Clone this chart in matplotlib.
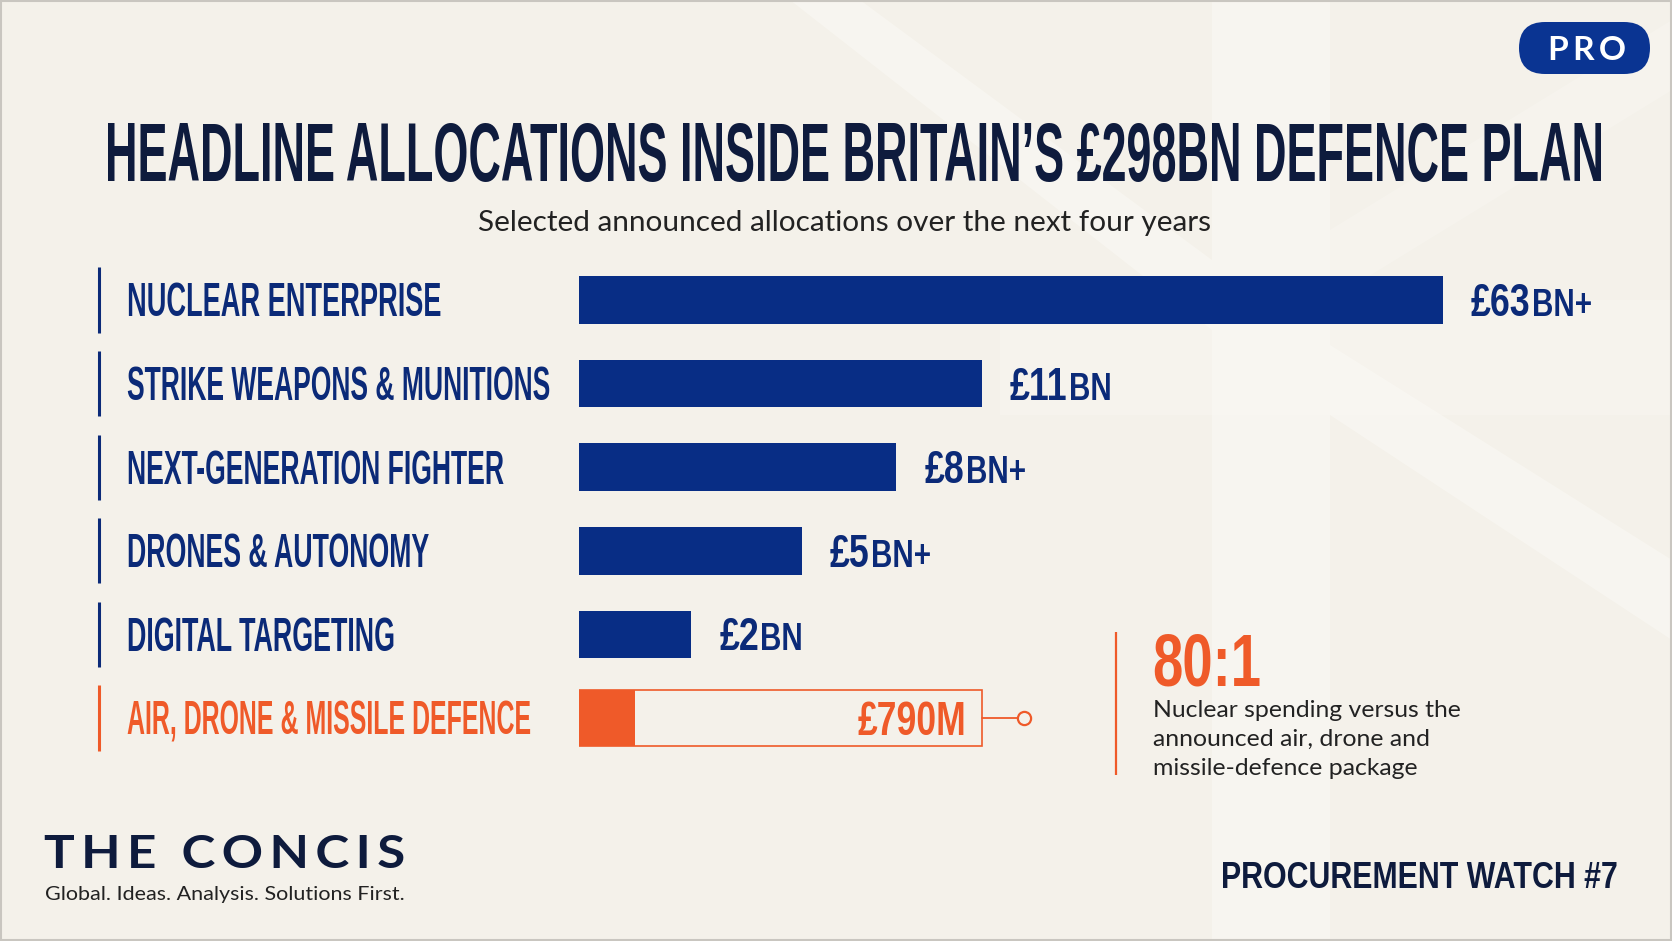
import os
import tempfile
import numpy as np
import matplotlib
matplotlib.use("Agg")
import matplotlib.pyplot as plt
import matplotlib.patches as mpatches
import matplotlib.transforms as mtransforms
from matplotlib import font_manager as fm
from matplotlib.textpath import TextPath
from matplotlib.font_manager import FontProperties
from fontTools.ttLib import TTFont
from fontTools.ttLib.tables import ttProgram
from fontTools.ttLib.tables._g_l_y_f import GlyphCoordinates

# data
categories = [
    "NUCLEAR ENTERPRISE",
    "STRIKE WEAPONS & MUNITIONS",
    "NEXT-GENERATION FIGHTER",
    "DRONES & AUTONOMY",
    "DIGITAL TARGETING",
    "AIR, DRONE & MISSILE DEFENCE",
]
values_bn = [63, 11, 8, 5, 2, 0.79]
value_main = ["£63", "£11", "£8", "£5", "£2", "£790M"]
value_unit = ["BN+", "BN", "BN+", "BN+", "BN", ""]
highlight = 5
ratio_label = "80:1"
note_lines = ["Nuclear spending versus the", "announced air, drone and", "missile-defence package"]

W, H, DPI = 1672, 941, 100
BG = "#f4f1ea"
BAR = "#082d85"
NAVY = "#0b2a78"
INK = "#0e1b3d"
ORANGE = "#ef5a29"
TEXT = "#222222"

COND = ["Liberation Sans", "DejaVu Sans"]
SANS = ["Lato", "Open Sans", "DejaVu Sans"]

# widths of the condensed category labels (px)
label_px = [311, 422, 375, 300, 265, 403]

FONT_DIR = tempfile.mkdtemp()
_made = {}


def narrow_family(fam, weight, sx, text):
    # no condensed display face is installed: build one by scaling glyph x coords
    key = (tuple(fam), weight, round(sx, 3), text)
    if key in _made:
        return _made[key]
    src = fm.findfont(FontProperties(family=fam, weight=weight))
    f = TTFont(src)
    if "glyf" not in f:
        return None
    glyf, hmtx = f["glyf"], f["hmtx"]
    cmap = f.getBestCmap()
    todo = {cmap[ord(c)] for c in text if ord(c) in cmap}
    stack = list(todo)
    while stack:
        g = glyf[stack.pop()]
        if g.isComposite():
            for c in g.components:
                if c.glyphName not in todo:
                    todo.add(c.glyphName)
                    stack.append(c.glyphName)
    simple = [n for n in todo if not glyf[n].isComposite()]
    comp = [n for n in todo if glyf[n].isComposite()]
    for n in simple + comp:
        g = glyf[n]
        if g.isComposite():
            for c in g.components:
                c.x = int(round(c.x * sx))
        elif g.numberOfContours > 0:
            g.coordinates = GlyphCoordinates([(round(x * sx), y) for x, y in g.coordinates])
        if hasattr(g, "program"):
            g.program = ttProgram.Program()
            g.program.fromBytecode(b"")
        g.recalcBounds(glyf)
        adv, _ = hmtx[n]
        hmtx[n] = (int(round(adv * sx)), int(getattr(g, "xMin", 0)))
    for tag in ("fpgm", "prep", "cvt ", "hdmx", "VDMX", "LTSH"):
        if tag in f:
            del f[tag]
    if "kern" in f:
        for sub in f["kern"].kernTables:
            if hasattr(sub, "kernTable"):
                for k in sub.kernTable:
                    sub.kernTable[k] = int(round(sub.kernTable[k] * sx))
    name = "Squeezed %d" % len(_made)
    for rec in f["name"].names:
        if rec.nameID in (1, 16):
            rec.string = name
        elif rec.nameID == 4:
            rec.string = name + (" Bold" if weight == "bold" else "")
        elif rec.nameID == 6:
            rec.string = name.replace(" ", "")
    path = os.path.join(FONT_DIR, name.replace(" ", "") + ".ttf")
    f.save(path)
    fm.fontManager.addfont(path)
    _made[key] = name
    return name


def em_for(fp, cap):
    h = TextPath((0, 0), "H", size=100, prop=fp).get_extents().height
    return cap * 100 / h


def ink_width(s, fp, em):
    return TextPath((0, 0), s, size=100, prop=fp).get_extents().width * em / 100


def put(ax_, x, y, s, cap, fam=COND, weight="bold", color=INK, ha="left",
        width=None, sx=1.0, transform=None):
    fp = FontProperties(family=fam, weight=weight)
    em = em_for(fp, cap)
    w = ink_width(s, fp, em)
    if width is not None:
        sx = width / w
    fams = list(fam)
    if abs(sx - 1) > 0.01:
        nf = narrow_family(fam, weight, sx, s)
        if nf:
            fams = [nf] + fams
    kw = {} if transform is None else {"transform": transform}
    ax_.text(x, y, s, family=fams, weight=weight, fontsize=em * 72 / DPI, color=color,
             ha=ha, va="baseline", **kw)
    return sx, w * sx


# nuclear bar is far off the scale of the rest, so compress above the knee
KNEE, POW, TAIL = 11.0, 0.75, 0.022


def fwd(v):
    v = np.clip(np.asarray(v, float), 0, None)
    return np.where(v <= KNEE, (v / KNEE) ** POW, 1 + (v - KNEE) * TAIL)


def inv(u):
    u = np.clip(np.asarray(u, float), 0, None)
    return np.where(u <= 1, KNEE * u ** (1 / POW), KNEE + (u - 1) / TAIL)


fig = plt.figure(figsize=(W / DPI, H / DPI), dpi=DPI, facecolor=BG)
bg = fig.add_axes([0, 0, 1, 1])
bg.set_xlim(0, W)
bg.set_ylim(H, 0)
bg.axis("off")

# faint union-flag shapes in the backdrop
light = dict(color="#fbfaf6", alpha=0.5, lw=0, zorder=0)
bg.add_patch(mpatches.Rectangle((1212, 0), 118, H, **light))
bg.add_patch(mpatches.Rectangle((1000, 300), W - 1000, 115, alpha=0.3, color="#fbfaf6", lw=0, zorder=0))
bg.add_patch(mpatches.Polygon([(790, 0), (860, 0), (1212, 260), (1212, 330)], **light))
bg.add_patch(mpatches.Polygon([(1330, 415), (1330, 345), (W, 560), (W, 640)], **light))
bg.add_patch(mpatches.Polygon([(1330, 300), (1330, 230), (W, 20), (W, 90)], alpha=0.3, color="#fbfaf6", lw=0, zorder=0))
bg.add_patch(mpatches.Rectangle((0.75, 0.75), W - 1.5, H - 1.5, fill=False, ec="#c9c6c0", lw=1.5))

# header
bg.add_patch(mpatches.FancyBboxPatch((1519, 22), 131, 52, boxstyle="round,pad=0,rounding_size=26",
                                     fc="#0a3492", ec="none"))
put(bg, 1548, 60, "P\u2009R\u2009O", 23, fam=SANS, color="white", width=74)
put(bg, 105, 181, "HEADLINE ALLOCATIONS INSIDE BRITAIN’S £298BN DEFENCE PLAN", 58, width=1495)
put(bg, 478, 231, "Selected announced allocations over the next four years", 21,
    fam=SANS, weight="normal", color=TEXT, width=731)

# bars
x0, x1 = 579, 1443
pitch = (718 - 300) / (len(categories) - 1)
top, bot = 300 - pitch / 2, 718 + pitch / 2
ax = fig.add_axes([x0 / W, 1 - bot / H, (x1 - x0) / W, (bot - top) / H])
ax.patch.set_alpha(0)
ax.set_xscale("function", functions=(fwd, inv))
ax.set_xlim(0, max(values_bn))
ax.set_ylim(len(categories) - 0.5, -0.5)
ax.axis("off")

rows = np.arange(len(categories))
vals = np.array(values_bn)
blue = rows != highlight
ax.barh(rows[blue], vals[blue], height=0.57, color=BAR)
ax.barh(highlight, values_bn[1], height=0.66, fill=False, edgecolor=ORANGE, lw=1.2)
ax.barh(highlight, values_bn[highlight], height=0.66, color=ORANGE)

# connector from the highlight box
ax.annotate("", xy=(values_bn[1], highlight), xytext=(35, 0), textcoords="offset pixels",
            arrowprops=dict(arrowstyle="-", color=ORANGE, lw=1.3, shrinkA=0, shrinkB=0))
ax.plot([values_bn[1]], [highlight], marker="o", ms=9.5, mfc=BG, mec=ORANGE, mew=1.6,
        clip_on=False, transform=mtransforms.offset_copy(ax.transData, fig=fig, x=42, units="dots"))

# category labels with rule marks
row_tr = mtransforms.blended_transform_factory(bg.transData, ax.transData)
colors = [ORANGE if i == highlight else NAVY for i in rows]
ax.vlines(np.full(len(rows), 99), rows - 0.39, rows + 0.39, colors=colors, lw=2.2,
          transform=row_tr, clip_on=False)
lab_cap = 33
lab_tr = mtransforms.offset_copy(row_tr, fig=fig, y=-lab_cap / 2, units="dots")
for i in rows:
    put(ax, 127, i, categories[i], lab_cap, color=colors[i], width=label_px[i], transform=lab_tr)

# value labels
hi_tr = mtransforms.offset_copy(ax.transData, fig=fig, x=-16, y=-17, units="dots")
put(ax, values_bn[1], highlight, value_main[highlight], 34, color=ORANGE,
    ha="right", width=106, transform=hi_tr)
fp_v = FontProperties(family=COND, weight="bold")
sx_big = 58 / ink_width(value_main[0], fp_v, em_for(fp_v, 32))
sx_unit = 57 / ink_width(value_unit[0], fp_v, em_for(fp_v, 26))
gap = 28
for i in rows[blue]:
    tr = mtransforms.offset_copy(ax.transData, fig=fig, x=gap, y=-16, units="dots")
    _, w = put(ax, vals[i], i, value_main[i], 32, color=NAVY, sx=sx_big, transform=tr)
    tr2 = mtransforms.offset_copy(ax.transData, fig=fig, x=gap + w + 3, y=-16, units="dots")
    put(ax, vals[i], i, value_unit[i], 26, color=NAVY, sx=sx_unit, transform=tr2)

# ratio callout
bg.plot([1116, 1116], [632, 775], color=ORANGE, lw=1.6, solid_capstyle="butt")
put(bg, 1152, 685, ratio_label, 51, color=ORANGE, width=106)
sx_note, _ = put(bg, 1153, 717, note_lines[0], 17, fam=SANS, weight="normal", color=TEXT, width=305)
for k, line in enumerate(note_lines[1:], start=1):
    put(bg, 1153, 717 + 29 * k, line, 17, fam=SANS, weight="normal", color=TEXT, sx=sx_note)

# footer
put(bg, 44, 868, "\u2009".join("THE") + "\u2009 \u2009" + "\u2009".join("CONCIS"), 33,
    fam=SANS, color=INK, width=359)
put(bg, 45, 900, "Global. Ideas. Analysis. Solutions First.", 13.5, fam=SANS, weight="normal",
    color=TEXT, width=356)
put(bg, 1221, 888, "PROCUREMENT WATCH #7", 25, color=INK, width=393)

fig.savefig("out.png", dpi=DPI, facecolor=BG)
